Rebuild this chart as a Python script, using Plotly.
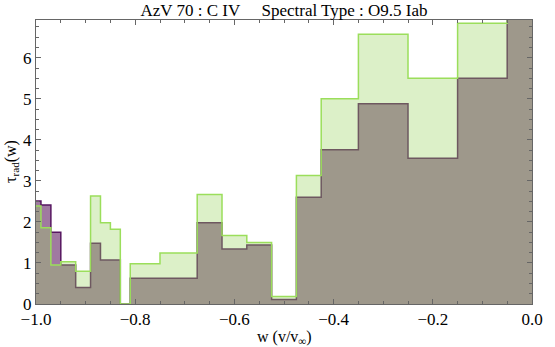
import plotly.graph_objects as go

# bin edges in w = v/v_inf
bin_edges = [-1.0, -0.99, -0.97, -0.95, -0.92, -0.89, -0.87, -0.85, -0.83, -0.81,
             -0.75, -0.675, -0.625, -0.575, -0.525, -0.475, -0.425, -0.35, -0.25,
             -0.15, -0.05, 0.0]
# tau_rad per bin, purple series
tau_purple = [2.51, 2.41, 1.75, 0.95, 0.40, 1.48, 1.07, 1.07, 0.0, 0.63,
              0.63, 1.98, 1.34, 1.44, 0.11, 2.60, 3.76, 4.88, 3.55, 5.50, 9.0]
# tau_rad per bin, green series
tau_green = [2.39, 1.86, 0.95, 1.03, 0.80, 2.63, 1.98, 1.82, 0.0, 0.98,
             1.24, 2.67, 1.67, 1.50, 0.18, 3.13, 5.00, 6.57, 5.50, 6.84, 9.0]

x_ticks = [-1.0, -0.8, -0.6, -0.4, -0.2, 0.0]
y_ticks = [0, 1, 2, 3, 4, 5, 6]

font_family = "Liberation Serif, Times New Roman, serif"
FS = 17

fig = go.Figure()
fig.add_trace(go.Scatter(
    x=bin_edges, y=tau_purple + [tau_purple[-1]], mode="lines",
    line=dict(shape="hv", color="#561660", width=1.5),
    fill="tozeroy", fillcolor="rgb(160,121,161)", showlegend=False))
fig.add_trace(go.Scatter(
    x=bin_edges, y=tau_green + [tau_green[-1]], mode="lines",
    line=dict(shape="hv", color="#9bde5b", width=1.5),
    fill="tozeroy", fillcolor="rgba(155,212,98,0.35)", showlegend=False))

axis_common = dict(
    showgrid=False, zeroline=False, showline=True, linecolor="#666666",
    linewidth=1, mirror="allticks", ticks="inside", tickcolor="#666666",
    tickfont=dict(family=font_family, size=FS, color="black"),
)

fig.update_xaxes(
    range=[-1.0, 0.0], tickvals=x_ticks, tickformat=".1f", ticklen=5,
    minor=dict(ticks="inside", dtick=0.05, ticklen=3, tickcolor="#666666"),
    **axis_common)
fig.update_yaxes(
    range=[0, 6.92], tickvals=y_ticks, ticklen=5,
    minor=dict(ticks="inside", dtick=0.25, ticklen=3, tickcolor="#666666"),
    **axis_common)

fig.add_annotation(
    text="w (v/v<sub>∞</sub>)", xref="paper", yref="paper", x=0.5, y=0,
    xanchor="center", yanchor="middle", yshift=-33, showarrow=False,
    font=dict(family=font_family, size=16, color="black"))
fig.add_annotation(
    text="τ<sub>rad</sub>(w)", xref="paper", yref="paper", x=0, y=0.5,
    xanchor="center", yanchor="middle", xshift=-25, textangle=-90, showarrow=False,
    font=dict(family=font_family, size=16, color="black"))

fig.update_layout(
    width=555, height=347,
    margin=dict(l=36, r=14, t=20, b=43),
    paper_bgcolor="white", plot_bgcolor="white",
    hovermode=False,
    title=dict(text="AzV 70 : C IV\u00a0\u00a0\u00a0\u00a0\u00a0Spectral Type : O9.5 Iab",
               x=0.5, xref="paper", xanchor="center", y=0.972, yanchor="middle",
               font=dict(family=font_family, size=FS, color="black")),
)

fig.write_html("out.html", config={"displayModeBar": False},
               post_script="document.body.style.margin='0';")
